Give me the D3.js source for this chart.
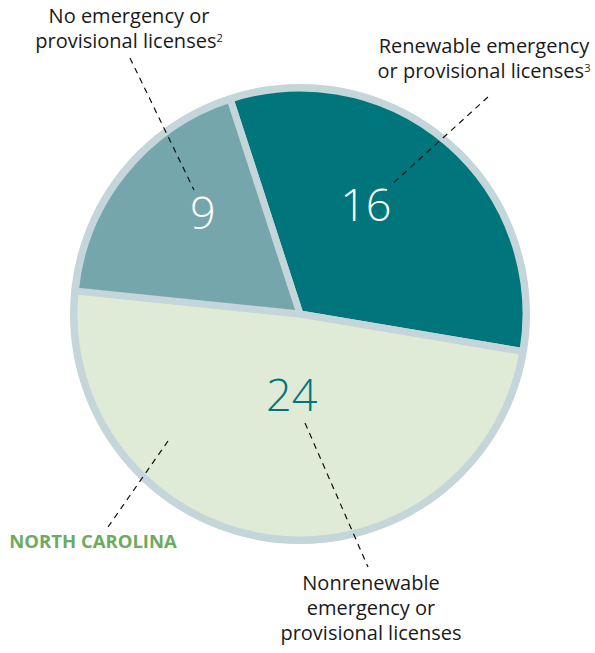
<!DOCTYPE html>
<html>
<head>
<meta charset="utf-8">
<script src="https://cdn.jsdelivr.net/npm/d3@7"></script>
<style>
  html, body { margin: 0; padding: 0; background: #fff; }
  svg { display: block; }
  text { font-family: "Open Sans", Lato, sans-serif; }
</style>
</head>
<body>
<svg id="chart" width="595" height="653"></svg>
<script>
// License categories and state counts (North Carolina)
const categories = [
  "Renewable emergency or provisional licenses",
  "Nonrenewable emergency or provisional licenses",
  "No emergency or provisional licenses"
];
const values = [16, 24, 9];
const sliceColors = ["#00757b", "#dfebd6", "#74a6ab"];
const valueColors = ["#ffffff", "#00757b", "#ffffff"];
const stateName = "NORTH CAROLINA";

const svg = d3.select("#chart");
const cx = 300, cy = 314;
const outerR = 226;
const ringColor = "#c5d6da";

const g = svg.append("g").attr("transform", `translate(${cx},${cy})`);

const startDeg = -18;
const pie = d3.pie()
  .sort(null)
  .value(d => d.value)
  .startAngle(startDeg * Math.PI / 180)
  .endAngle((360 + startDeg) * Math.PI / 180);

const data = categories.map((c, i) => ({ name: c, value: values[i], i }));
const arcs = pie(data);
const arc = d3.arc().innerRadius(0).outerRadius(outerR);

// outer ring
g.append("circle")
  .attr("r", outerR)
  .attr("fill", "none")
  .attr("stroke", ringColor)
  .attr("stroke-width", 8);

g.selectAll("path.slice")
  .data(arcs)
  .join("path")
  .attr("class", "slice")
  .attr("d", arc)
  .attr("fill", d => sliceColors[d.data.i])
  .attr("stroke", ringColor)
  .attr("stroke-width", 7)
  .attr("stroke-linejoin", "round");

// value labels, placed in polar offsets from the centre
const valuePlacement = [
  { angle: 30.7, r: 129 },
  { angle: 186, r: 80 },
  { angle: -43.6, r: 141 }
];
g.selectAll("text.value")
  .data(arcs)
  .join("text")
  .attr("class", "value")
  .attr("x", d => valuePlacement[d.data.i].r * Math.sin(valuePlacement[d.data.i].angle * Math.PI / 180))
  .attr("y", d => -valuePlacement[d.data.i].r * Math.cos(valuePlacement[d.data.i].angle * Math.PI / 180))
  .attr("text-anchor", "middle")
  .attr("dominant-baseline", "central")
  .attr("font-size", 45)
  .attr("font-weight", 300)
  .attr("fill", d => valueColors[d.data.i])
  .text(d => d.data.value);

// dashed leader lines
const leaders = [
  [[488, 97], [390, 186]],
  [[305, 423], [368, 567]],
  [[130, 58], [194, 190]],
  [[108, 527], [168, 441]]
];
svg.selectAll("line.leader")
  .data(leaders)
  .join("line")
  .attr("class", "leader")
  .attr("x1", d => d[0][0]).attr("y1", d => d[0][1])
  .attr("x2", d => d[1][0]).attr("y2", d => d[1][1])
  .attr("stroke", "#111")
  .attr("stroke-width", 1.2)
  .attr("stroke-dasharray", "6,5");

// category labels
function multiline(x, y, lines, sup, lh) {
  const t = svg.append("text")
    .attr("x", x).attr("y", y)
    .attr("text-anchor", "middle")
    .attr("font-size", 20)
    .attr("fill", "#1a1a1a");
  lines.forEach((ln, k) => {
    t.append("tspan").attr("x", x).attr("dy", k === 0 ? 0 : lh).text(ln);
    if (k === lines.length - 1 && sup) {
      t.append("tspan").attr("dy", -6).attr("font-size", 11).text(sup);
    }
  });
}
multiline(129, 23, ["No emergency or", "provisional licenses"], "2", 24.5);
multiline(484, 53, ["Renewable emergency", "or provisional licenses"], "3", 24.5);
multiline(371, 590, ["Nonrenewable", "emergency or", "provisional licenses"], null, 25);

svg.append("text")
  .attr("x", 93).attr("y", 548)
  .attr("text-anchor", "middle")
  .attr("font-size", 18.5)
  .attr("font-weight", 700)
  .attr("fill", "#6cab5e")
  .text(stateName);
</script>
</body>
</html>
